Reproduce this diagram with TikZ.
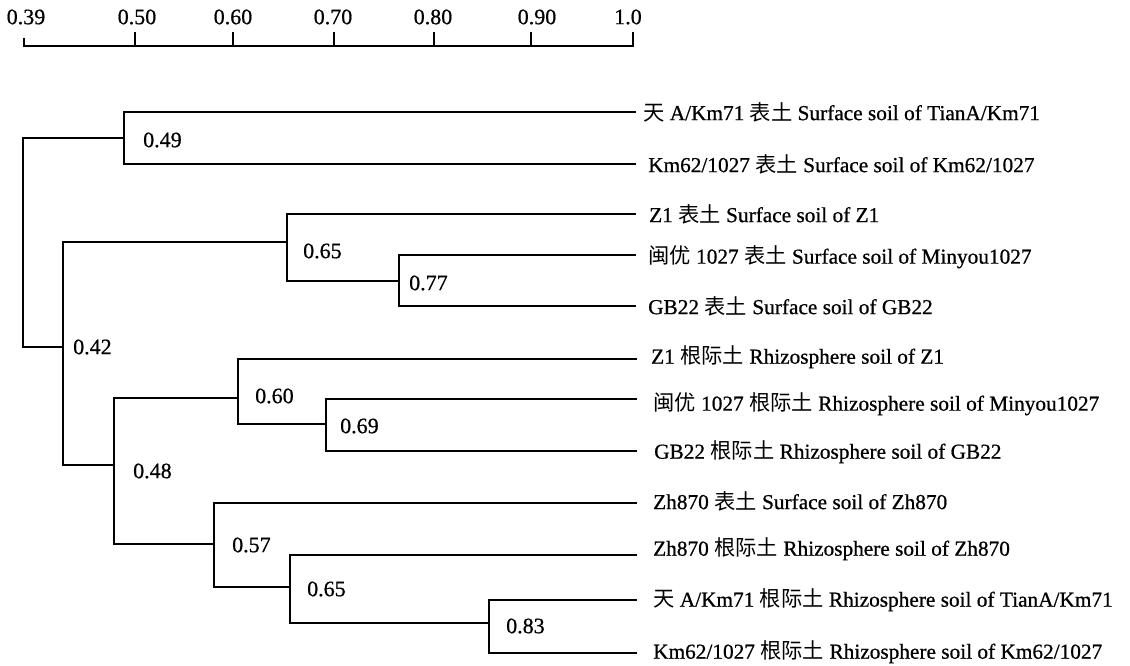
\documentclass[tikz,border=0pt]{standalone}
\usepackage{fontspec}
\setmainfont{Liberation Serif}
\newfontfamily\heavyrm{Liberation Serif}[FakeBold=0.7]
\newfontfamily\cjk{Noto Sans CJK SC}
\newcommand\zh[1]{{\cjk #1}}
\tikzset{
  branch/.style={line width=2.5pt, line join=miter},
  leaf/.style={anchor=west, inner sep=0pt, font=\heavyrm\fontsize{21.3}{24}\selectfont},
  val/.style={anchor=west, inner sep=0pt, font=\heavyrm\fontsize{22}{24}\selectfont},
  axlab/.style={anchor=center, inner sep=0pt, font=\heavyrm\fontsize{22}{24}\selectfont},
}
\begin{document}
\begin{tikzpicture}[x=1pt,y=-1pt]
\useasboundingbox[fill=white] (0,0) rectangle (1130,665);
% axis
\coordinate (a039) at (24,46);
\coordinate (a050) at (135,46);
\coordinate (a060) at (233,46);
\coordinate (a070) at (334,46);
\coordinate (a080) at (434,46);
\coordinate (a090) at (531,46);
\coordinate (a100) at (633,46);
\coordinate (t039) at (24,38);
\coordinate (t050) at (135,32);
\coordinate (t060) at (233,32);
\coordinate (t070) at (334,32);
\coordinate (t080) at (434,32);
\coordinate (t090) at (531,32);
\coordinate (t100) at (633,32);
\draw[branch] (t039) -- (a039) -- (a100) -- (t100);
\foreach \t in {050,060,070,080,090}{\draw[branch] (a\t) -- (t\t);}
\node[axlab] (x039) at (26,17) {0.39};
\node[axlab] (x050) at (137,17) {0.50};
\node[axlab] (x060) at (233,17) {0.60};
\node[axlab] (x070) at (333,17) {0.70};
\node[axlab] (x080) at (433,17) {0.80};
\node[axlab] (x090) at (537,17) {0.90};
\node[axlab] (x100) at (628,17) {1.0};
% leaves
\coordinate (l1) at (636,112);
\coordinate (l2) at (636,164);
\coordinate (l3) at (636,214);
\coordinate (l4) at (636,255);
\coordinate (l5) at (636,306);
\coordinate (l6) at (637,359);
\coordinate (l7) at (637,399);
\coordinate (l8) at (637,451);
\coordinate (l9) at (637,503);
\coordinate (l10) at (637,555);
\coordinate (l11) at (637,600);
\coordinate (l12) at (637,653);
\node[leaf] (s1) at (643,112) {\zh{天} A/Km71 \zh{表土} Surface soil of TianA/Km71};
\node[leaf] (s2) at (648,164) {Km62/1027 \zh{表土} Surface soil of Km62/1027};
\node[leaf] (s3) at (649,214) {Z1 \zh{表土} Surface soil of Z1};
\node[leaf] (s4) at (648,257) {\zh{闽优} 1027 \zh{表土} Surface soil of Minyou1027};
\node[leaf] (s5) at (648,306) {GB22 \zh{表土} Surface soil of GB22};
\node[leaf] (s6) at (651,357) {Z1 \zh{根际土} Rhizosphere soil of Z1};
\node[leaf] (s7) at (653,404) {\zh{闽优} 1027 \zh{根际土} Rhizosphere soil of Minyou1027};
\node[leaf] (s8) at (654,452) {GB22 \zh{根际土} Rhizosphere soil of GB22};
\node[leaf] (s9) at (653,501) {Zh870 \zh{表土} Surface soil of Zh870};
\node[leaf] (s10) at (653,549) {Zh870 \zh{根际土} Rhizosphere soil of Zh870};
\node[leaf] (s11) at (653,600) {\zh{天} A/Km71 \zh{根际土} Rhizosphere soil of TianA/Km71};
\node[leaf] (s12) at (653,652) {Km62/1027 \zh{根际土} Rhizosphere soil of Km62/1027};
% internal nodes
\coordinate (n049) at (124,138);
\coordinate (n077) at (399,281);
\coordinate (n065a) at (287,242);
\coordinate (n069) at (326,424);
\coordinate (n060) at (238,398);
\coordinate (n083) at (489,623);
\coordinate (n065b) at (290,587);
\coordinate (n057) at (214,544);
\coordinate (n048) at (114,465);
\coordinate (n042) at (63,347);
\coordinate (root) at (23,240);
\draw[branch] (n049) |- (l1);
\draw[branch] (n049) |- (l2);
\draw[branch] (n077) |- (l4);
\draw[branch] (n077) |- (l5);
\draw[branch] (n065a) |- (l3);
\draw[branch] (n065a) |- (n077);
\draw[branch] (n069) |- (l7);
\draw[branch] (n069) |- (l8);
\draw[branch] (n060) |- (l6);
\draw[branch] (n060) |- (n069);
\draw[branch] (n083) |- (l11);
\draw[branch] (n083) |- (l12);
\draw[branch] (n065b) |- (l10);
\draw[branch] (n065b) |- (n083);
\draw[branch] (n057) |- (l9);
\draw[branch] (n057) |- (n065b);
\draw[branch] (n048) |- (n060);
\draw[branch] (n048) |- (n057);
\draw[branch] (n042) |- (n065a);
\draw[branch] (n042) |- (n048);
\draw[branch] (root) |- (n049);
\draw[branch] (root) |- (n042);
% values
\node[val] (v049) at (143,140) {0.49};
\node[val] (v065a) at (303,251) {0.65};
\node[val] (v077) at (409,283) {0.77};
\node[val] (v042) at (73,347) {0.42};
\node[val] (v060) at (255,396) {0.60};
\node[val] (v069) at (340,426) {0.69};
\node[val] (v048) at (133,471) {0.48};
\node[val] (v057) at (232,545) {0.57};
\node[val] (v065b) at (307,589) {0.65};
\node[val] (v083) at (506,626) {0.83};
\end{tikzpicture}
\end{document}
